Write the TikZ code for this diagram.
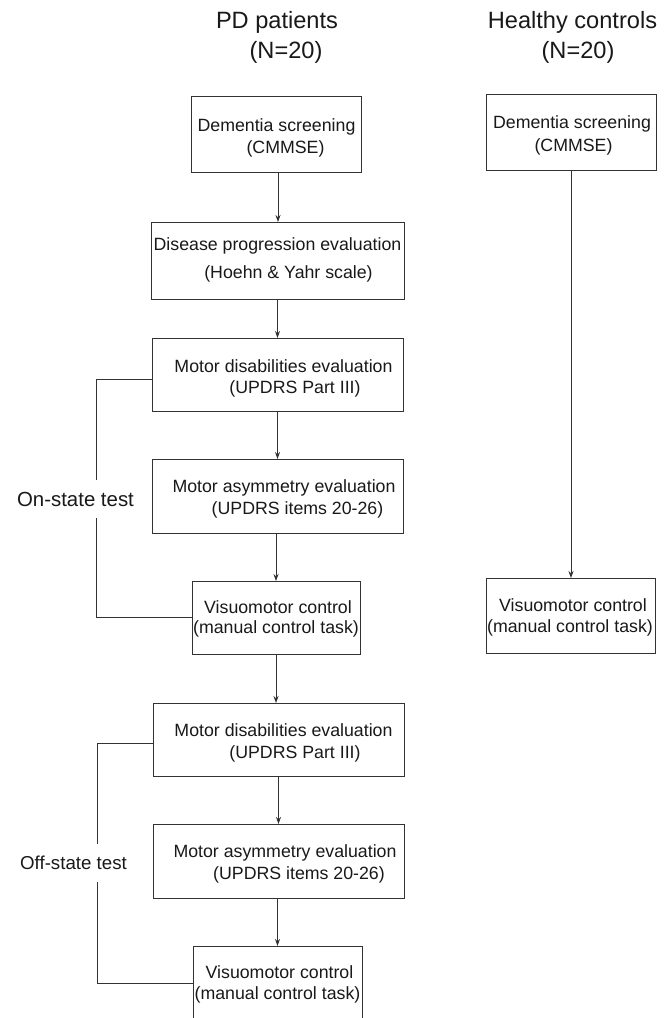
\documentclass[tikz,border=0pt]{standalone}
\usepackage{fontspec}
\setmainfont{Liberation Sans}
\usetikzlibrary{arrows.meta}
\begin{document}
\begin{tikzpicture}[x=1pt,y=-1pt,
  boxnode/.style={draw=black!80, line width=0.9pt, inner sep=0pt, outer sep=0pt},
  txt/.style={anchor=base, inner sep=0pt, text=black!90, font=\fontsize{17.75}{21}\selectfont},
  ttl/.style={anchor=base, inner sep=0pt, text=black!90, font=\fontsize{23.6}{30}\selectfont},
  conn/.style={draw=black!80, line width=0.9pt},
  arr/.style={conn, -{Stealth[length=7pt,width=5pt]}},
  sidelbl/.style={fill=white, inner xsep=2pt, text=black!90}]
\useasboundingbox (0,0) rectangle (669,1018);
\clip (0,0) rectangle (669,1018);
\fill[white] (0,0) rectangle (669,1018);

% titles
\node[ttl] (pd1) at (277,28.2) {PD patients};
\node[ttl] (pd2) at (286,58) {(N=20)};
\node[ttl] (hc1) at (572.5,28.2) {Healthy controls};
\node[ttl] (hc2) at (578,58) {(N=20)};

% PD boxes
\node[boxnode, minimum width=170pt, minimum height=76pt] (b1) at (276,134) {};
\node[boxnode, minimum width=253pt, minimum height=77pt] (b2) at (277.5,260.5) {};
\node[boxnode, minimum width=251pt, minimum height=73pt] (b3) at (277.5,374.5) {};
\node[boxnode, minimum width=251pt, minimum height=74pt] (b4) at (277.5,496) {};
\node[boxnode, minimum width=168pt, minimum height=73pt] (b5) at (276,617.5) {};
\node[boxnode, minimum width=251pt, minimum height=73pt] (b6) at (278.5,739.5) {};
\node[boxnode, minimum width=251pt, minimum height=74pt] (b7) at (278.5,861) {};
\node[boxnode, minimum width=169pt, minimum height=94pt] (b8) at (277.5,993) {};

% HC boxes
\node[boxnode, minimum width=170pt, minimum height=76pt] (h1) at (571,132) {};
\node[boxnode, minimum width=169pt, minimum height=75pt] (h2) at (570.5,615.5) {};

% box texts
\node[txt] (t1a) at (276.5,131.4) {Dementia screening};
\node[txt] (t1b) at (285.5,153.4) {(CMMSE)};
\node[txt] (t2a) at (277.5,250.4) {Disease progression evaluation};
\node[txt] (t2b) at (288.5,278.4) {(Hoehn \& Yahr scale)};
\node[txt] (t3a) at (283.5,372.4) {Motor disabilities evaluation};
\node[txt] (t3b) at (295,393.4) {(UPDRS Part III)};
\node[txt] (t4a) at (284,492.4) {Motor asymmetry evaluation};
\node[txt] (t4b) at (297.5,514.4) {(UPDRS items 20-26)};
\node[txt] (t5a) at (278,613.4) {Visuomotor control};
\node[txt] (t5b) at (276,633.4) {(manual control task)};
\node[txt] (t6a) at (283.5,736.4) {Motor disabilities evaluation};
\node[txt] (t6b) at (295,758.4) {(UPDRS Part III)};
\node[txt] (t7a) at (285,857.4) {Motor asymmetry evaluation};
\node[txt] (t7b) at (299,879.4) {(UPDRS items 20-26)};
\node[txt] (t8a) at (279.5,978.4) {Visuomotor control};
\node[txt] (t8b) at (277.5,999.4) {(manual control task)};
\node[txt] (th1a) at (572,128.4) {Dementia screening};
\node[txt] (th1b) at (573.5,151.4) {(CMMSE)};
\node[txt] (th2a) at (573,611.4) {Visuomotor control};
\node[txt] (th2b) at (570,632.4) {(manual control task)};

% PD arrows
\draw[arr] (b1.south -| b2.north) ++(0.5,0) coordinate (a1s) -- (a1s |- b2.north);
\draw[arr] (b2.south) -- (b2.south |- b3.north);
\draw[arr] (b3.south) -- (b3.south |- b4.north);
\draw[arr] (b4.south -| b5.north) -- (b5.north);
\draw[arr] (b5.south) -- (b5.south |- b6.north);
\draw[arr] (b6.south) -- (b6.south |- b7.north);
\draw[arr] (b7.south -| b8.north) -- (b8.north);

% HC arrow
\draw[arr] (h1.south) -- (h1.south |- h2.north);

% on-state bracket
\coordinate (on1) at (96,379);
\coordinate (on2) at (96,617);
\draw[conn] (b3.west |- on1) -- (on1) -- (on2) -- (b5.west |- on2);
\node[sidelbl, inner ysep=11.5pt, font=\fontsize{20.4}{24}\selectfont] (onlbl) at (75.5,499) {On-state test};

% off-state bracket
\coordinate (off1) at (97,743);
\coordinate (off2) at (97,983);
\draw[conn] (b6.west |- off1) -- (off1) -- (off2) -- (b8.west |- off2);
\node[sidelbl, inner ysep=11.7pt, font=\fontsize{18.7}{22}\selectfont] (offlbl) at (73.5,863) {Off-state test};
\end{tikzpicture}
\end{document}
